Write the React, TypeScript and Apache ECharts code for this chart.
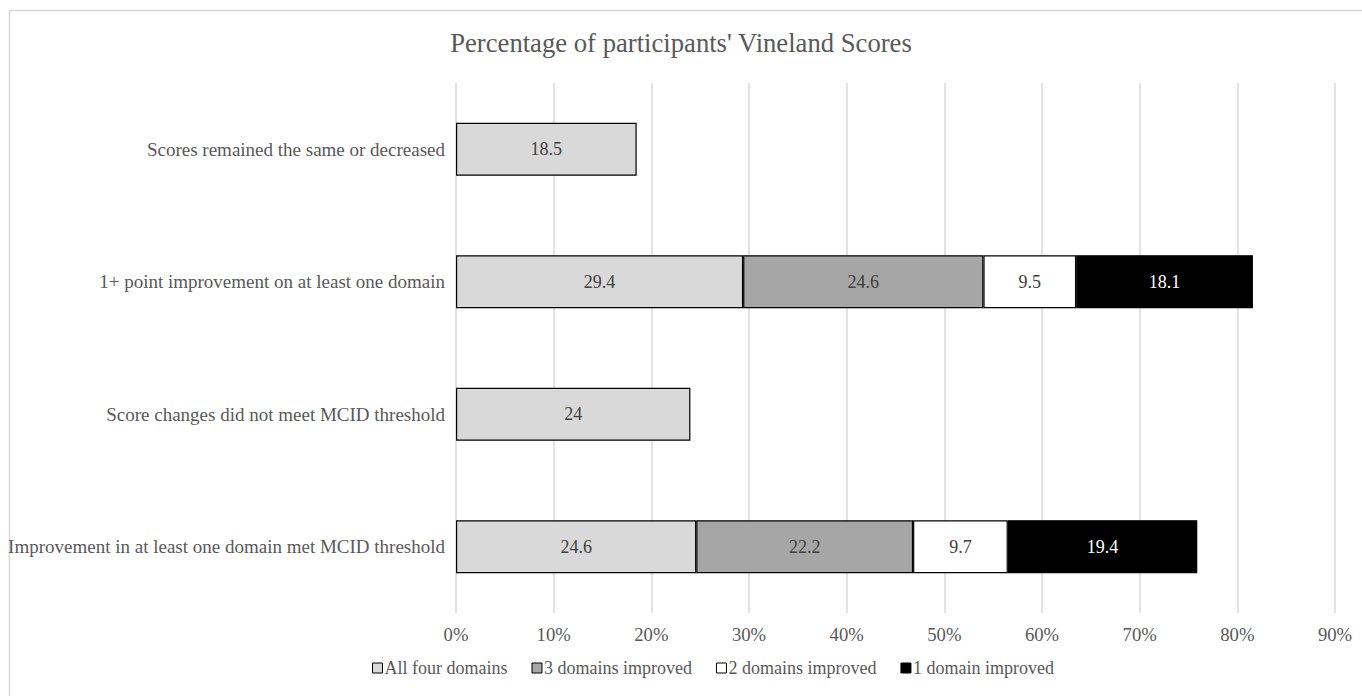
import React, { useEffect, useRef } from "react";
import * as echarts from "echarts";

const categories = [
  "Scores remained the same or decreased",
  "1+ point improvement on at least one domain",
  "Score changes did not meet MCID threshold",
  "Improvement in at least one domain met MCID threshold",
];
const seriesNames = ["All four domains", "3 domains improved", "2 domains improved", "1 domain improved"];
const allFour = [18.5, 29.4, 24, 24.6];
const threeDomains = [null, 24.6, null, 22.2];
const twoDomains = [null, 9.5, null, 9.7];
const oneDomain = [null, 18.1, null, 19.4];
const xTicks = [0, 10, 20, 30, 40, 50, 60, 70, 80, 90];

const colors = ["#d9d9d9", "#a6a6a6", "#ffffff", "#000000"];
const labelColors = ["#404040", "#404040", "#404040", "#ffffff"];

export default function App() {
  const ref = useRef<HTMLDivElement>(null);
  useEffect(() => {
    if (!ref.current) return;
    const chart = echarts.init(ref.current, null, { renderer: "svg" });
    const font = "Liberation Serif";
    const values = [allFour, threeDomains, twoDomains, oneDomain];
    chart.setOption({
      animation: false,
      backgroundColor: "#ffffff",
      textStyle: { fontFamily: font },
      title: {
        text: "Percentage of participants' Vineland Scores",
        left: "center",
        top: 24,
        textStyle: { fontFamily: font, fontSize: 26.67, fontWeight: "normal", color: "#595959" },
      },
      graphic: [
        {
          type: "rect",
          shape: { x: 9.5, y: 10.5, width: 1400, height: 720 },
          style: { fill: "none", stroke: "#d9d9d9", lineWidth: 1.5 },
          silent: true,
        },
      ],
      legend: {
        bottom: 14,
        left: 367,
        itemWidth: 10,
        itemHeight: 10,
        itemGap: 24,
        icon: "rect",
        textStyle: { fontFamily: font, fontSize: 18, color: "#595959", padding: [0, 0, 0, -3] },
        data: seriesNames.map((n, i) => ({
          name: n,
          itemStyle: { color: colors[i], borderColor: "#000", borderWidth: 1 },
        })),
      },
      grid: { left: 456, right: 27, top: 83, bottom: 83, containLabel: false },
      xAxis: {
        type: "value",
        min: xTicks[0],
        max: xTicks[xTicks.length - 1],
        interval: 10,
        axisLine: { show: false },
        axisTick: { show: false },
        axisLabel: {
          formatter: (v: number) => v + "%",
          fontFamily: font,
          fontSize: 18.67,
          color: "#595959",
          margin: 12,
        },
        splitLine: { show: true, lineStyle: { color: "#d9d9d9", width: 1.5 } },
      },
      yAxis: {
        type: "category",
        inverse: true,
        data: categories,
        axisLine: { show: false },
        axisTick: { show: false },
        axisLabel: { fontFamily: font, fontSize: 19, color: "#595959", margin: 11 },
      },
      series: seriesNames.map((name, i) => ({
        name,
        type: "bar",
        stack: "total",
        barWidth: 53,
        data: values[i].map((v) => (v === null ? "-" : v)),
        itemStyle: { color: colors[i], borderColor: "#000", borderWidth: 1.2 },
        label: {
          show: true,
          position: "inside",
          fontFamily: font,
          fontSize: 18,
          color: labelColors[i],
          formatter: (p: any) => String(p.value),
        },
      })),
    });
    return () => chart.dispose();
  }, []);
  return (
    <div
      ref={ref}
      style={{ position: "fixed", left: 0, top: 0, width: 1362, height: 696 }}
    />
  );
}
